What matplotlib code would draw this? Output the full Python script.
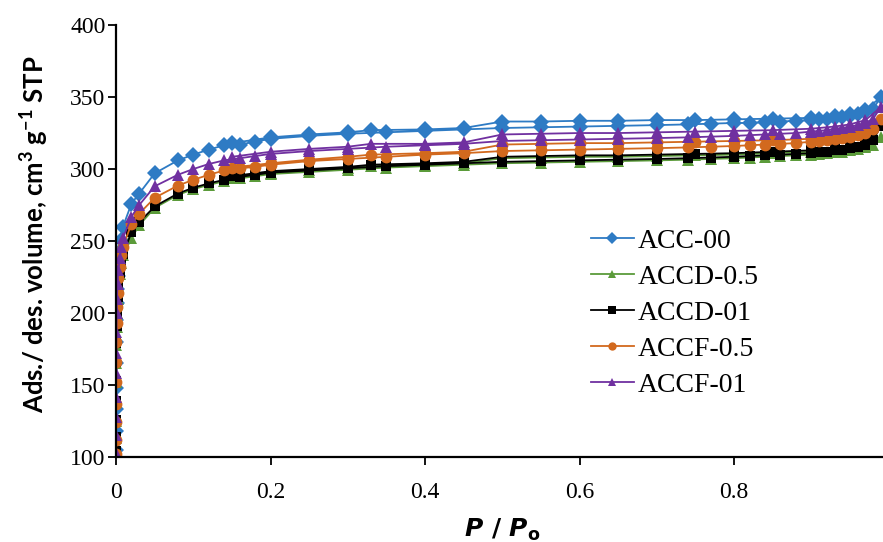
import numpy as np
import matplotlib.pyplot as plt

# relative pressure steps (adsorption up, desorption down)
P_ADS = [0.00001, 0.00003, 0.00006, 0.0001, 0.0002, 0.0003, 0.0005, 0.0008,
         0.0012, 0.002, 0.003, 0.005, 0.007, 0.009, 0.02, 0.03,
         0.05, 0.08, 0.10, 0.12, 0.14, 0.16, 0.18, 0.20, 0.25, 0.30, 0.35,
         0.40, 0.45, 0.50, 0.55, 0.60, 0.65, 0.70, 0.74, 0.77, 0.80, 0.82,
         0.84, 0.86, 0.88, 0.90, 0.91, 0.92, 0.93, 0.94, 0.95, 0.96, 0.97,
         0.98, 0.99]
P_DES = [0.97, 0.95, 0.93, 0.90, 0.85, 0.80, 0.75, 0.70, 0.65, 0.60, 0.55,
         0.50, 0.45, 0.40, 0.33, 0.30, 0.25, 0.20, 0.15]

# volumes, cm3/g STP
ACC00_ADS = [105, 118, 133, 148, 165, 180, 195, 207, 217, 226, 235, 243, 251, 260, 276, 283,
             297, 306, 310, 313.5, 316.5, 317, 319, 321, 323, 324.5, 325.5,
             326.5, 327.5, 328.5, 329, 329.5, 330, 330.5, 331, 331.5, 332, 332,
             332.5, 333, 333.5, 334, 334.5, 335, 335.5, 336, 337, 338, 339.5,
             342, 350]
ACC00_DES = [341, 338, 336.5, 335.5, 335, 334.5, 334, 334, 333.5, 333.5, 333,
             333, 328.5, 327.5, 327, 325.5, 324, 322, 318]

ACCD05_ADS = [103, 113, 125, 138, 152, 165, 178, 190, 200, 210, 219, 227, 235, 240, 252, 261,
              273, 282, 286, 289, 291.5, 293.5, 295, 296.5, 298, 299.5, 301,
              302, 303, 304, 304.5, 305, 305.5, 306, 306.5, 307, 307.5, 308,
              308.5, 309, 309.5, 310, 310.5, 311, 311.5, 312, 313, 314, 315,
              317, 322]
ACCD05_DES = [316, 314, 313, 312, 311, 310, 309.5, 309, 308.5, 308.5, 308,
              307.5, 304, 303, 302, 300.5, 299, 297.5, 294]

ACCD01_ADS = [104, 114, 126, 139, 153, 166, 179, 191, 201, 211, 220, 228, 236, 241, 256, 263,
              274, 283, 287, 290, 292.5, 294.5, 296, 297.5, 299, 300.5, 302,
              303, 304, 305, 305.5, 306, 306.5, 307, 307.5, 308, 308.5, 309,
              309.5, 310, 310.5, 311, 311.5, 312, 313, 313.5, 314.5, 315.5, 317,
              320, 330]
ACCD01_DES = [319, 316, 314.5, 313, 312, 311, 310.5, 310, 309.5, 309.5, 309,
              308.5, 305, 304, 303, 301.5, 300, 298.5, 295]

ACCF05_ADS = [102, 112, 124, 137, 152, 166, 180, 193, 204, 214, 224, 232, 240, 246, 262, 269,
              280, 288.5, 292.5, 296, 299, 300.5, 301.5, 303, 305.5, 307, 308.5,
              310, 311, 312.5, 313, 313.5, 314, 314.5, 315, 315.5, 316, 316.5,
              317, 317.5, 318, 319, 319.5, 320, 321, 321.5, 322.5, 323.5, 325,
              328, 335]
ACCF05_DES = [327, 324, 322.5, 321, 320, 319.5, 319, 318.5, 318, 318, 317.5,
              317, 312, 311, 310, 308.5, 306.5, 304, 301]

ACCF01_ADS = [103, 115, 128, 142, 158, 172, 187, 200, 210, 220, 230, 238, 246, 252, 267, 275,
              288, 296, 300, 303.5, 306, 307.5, 309, 310.5, 312.5, 314, 315.5,
              316.5, 317.5, 319.5, 320, 320.5, 321, 321.5, 322, 322.5, 323, 323.5,
              324, 324.5, 325, 326, 326.5, 327, 328, 328.5, 329.5, 330.5, 332,
              335, 343]
ACCF01_DES = [334, 331, 329.5, 328, 327, 326.5, 326, 325.5, 325, 325, 324.5,
              324, 318.5, 317.5, 317.5, 315.5, 314, 312, 308.5]

LABELS = ["ACC-00", "ACCD-0.5", "ACCD-01", "ACCF-0.5", "ACCF-01"]
COLORS = ["#2E7BC4", "#5B9B3A", "#000000", "#D2691E", "#7030A0"]
MARKERS = ["D", "^", "s", "o", "^"]
MSIZES = [8.5, 9, 7.5, 8.5, 9]


def main():
    plt.rcParams["mathtext.fontset"] = "custom"
    plt.rcParams["mathtext.rm"] = "Lato:bold"
    plt.rcParams["mathtext.it"] = "DejaVu Sans:italic:bold"
    plt.rcParams["mathtext.bf"] = "DejaVu Sans:bold"

    fig = plt.figure(figsize=(8.83, 5.42), dpi=100)
    ax = fig.add_axes([0.1314, 0.1568, 0.875, 0.797])

    series = [
        (ACC00_ADS, ACC00_DES),
        (ACCD05_ADS, ACCD05_DES),
        (ACCD01_ADS, ACCD01_DES),
        (ACCF05_ADS, ACCF05_DES),
        (ACCF01_ADS, ACCF01_DES),
    ]
    p_all = np.array(P_ADS + P_DES)
    for (ads, des), lab, c, m, ms in zip(series, LABELS, COLORS, MARKERS, MSIZES):
        v_all = np.array(ads + des)
        ax.plot(p_all, v_all, color=c, marker=m, markersize=ms, linewidth=1.3,
                markeredgewidth=0, label=lab)

    ax.set_xlim(0, 1.0)
    ax.set_ylim(100, 400)
    ax.set_xticks([0, 0.2, 0.4, 0.6, 0.8])
    ax.set_xticklabels(["0", "0.2", "0.4", "0.6", "0.8"])
    ax.set_yticks(np.arange(100, 401, 50))

    for s in ["top", "right"]:
        ax.spines[s].set_visible(False)
    for s in ["left", "bottom"]:
        ax.spines[s].set_linewidth(1.6)
    ax.tick_params(axis="both", direction="out", length=6, width=1.3,
                   labelsize=17)
    ax.tick_params(axis="x", pad=12)
    ax.tick_params(axis="y", pad=1.5)
    for t in ax.get_xticklabels() + ax.get_yticklabels():
        t.set_fontfamily("Liberation Serif")

    ax.set_ylabel(r"Ads./ des. volume, cm$^{3}$ g$^{-1}$ STP", fontfamily="Lato",
                  fontweight="bold", fontsize=18.5, labelpad=14, y=0.515)
    ax.set_xlabel(r"$P$ / $P_{\mathbf{o}}$", fontfamily="DejaVu Sans",
                  fontweight="bold", fontsize=18, labelpad=10)

    leg = ax.legend(loc="upper left", bbox_to_anchor=(0.6, 0.555), frameon=False,
                    prop={"family": "Liberation Serif", "size": 20},
                    handlelength=1.55, handletextpad=0.15, labelspacing=0.38,
                    borderaxespad=0)
    for h in leg.legend_handles:
        h.set_markersize(6)

    fig.savefig("out.png", dpi=100)


if __name__ == "__main__":
    main()
